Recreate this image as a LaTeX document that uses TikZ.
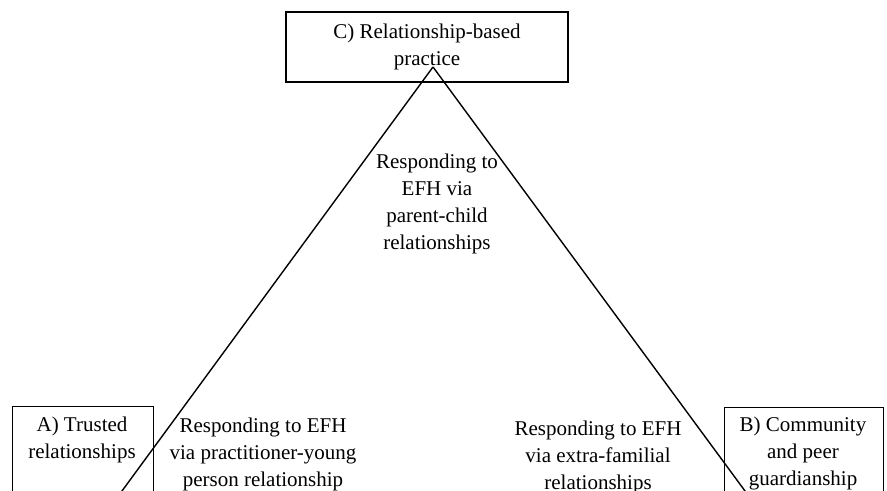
\documentclass[tikz,border=0pt]{standalone}
\usepackage{fontspec}
\setmainfont{Liberation Serif}
\usetikzlibrary{positioning}

\begin{document}
\begin{tikzpicture}[
        box/.style={rectangle, draw, line width=0.7pt, inner sep=0pt},
        txt/.style={align=center, inner sep=0pt, font=\fontsize{10.5}{13.5}\selectfont},
        line/.style={line width=0.7pt, -}
    ]

        \useasboundingbox (0,0) rectangle (15.587,8.628);
        \clip (0,0) rectangle (15.587,8.628);

        \node[box, txt, minimum width=4.956cm, minimum height=1.23cm] (rbp) at (7.504,7.802) {C) Relationship-based\\practice};

        \node[box, anchor=north west, minimum width=2.478cm, minimum height=1.9cm] (trusted) at (0.211,1.494) {};
        \node[box, anchor=north west, minimum width=2.794cm, minimum height=1.9cm] (guard) at (12.723,1.476) {};

        \node[txt] (trusted_txt) at (1.441,0.896) {A) Trusted\\relationships};
        \node[txt] (guard_txt) at (14.111,0.659) {B) Community\\and peer\\guardianship};

        \node[txt] (parent) at (7.679,5.052) {Responding to\\EFH via\\parent-child\\relationships};
        \node[txt] (practitioner) at (4.622,0.641) {Responding to EFH\\via practitioner-young\\person relationship};
        \node[txt] (extra) at (10.509,0.597) {Responding to EFH\\via extra-familial\\relationships};

        \coordinate (apex) at (7.609,7.451);
        \coordinate (left_end) at (1.997,-0.2);
        \coordinate (right_end) at (13.239,-0.2);

        \draw[line] (apex) -- (left_end);
        \draw[line] (apex) -- (right_end);

    \end{tikzpicture}
\end{document}
